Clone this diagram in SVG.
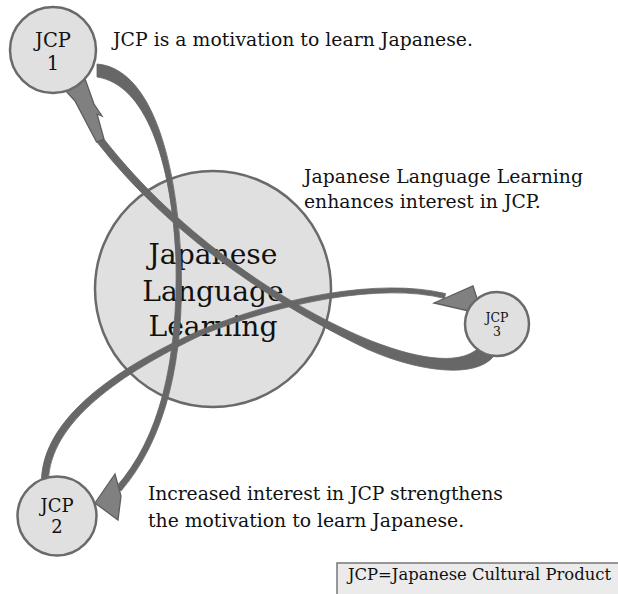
<svg xmlns="http://www.w3.org/2000/svg" width="618" height="594" viewBox="0 0 618 594">
<style>
.node{fill:#e0e0e0;stroke:#6a6a6a;stroke-width:2.5}
.shaft{fill:#676767;stroke:#666;stroke-width:0.8}
.head{fill:#808080;stroke:#5e5e5e;stroke-width:1.3;stroke-linejoin:miter}
text{font-family:"DejaVu Serif","Liberation Serif",serif;fill:#111}
.lbl{font-size:18.8px}
.c{text-anchor:middle}
</style>
<rect width="618" height="594" fill="#fff"/>
<g id="node-jll">
<circle class="node" cx="213" cy="289" r="118"/>
<text class="c" x="213" y="264" font-size="28.2">Japanese</text>
<text class="c" x="213" y="301" font-size="28.2">Language</text>
<text class="c" x="213" y="336" font-size="28.2">Learning</text>
</g>
<g id="connectors">
<path id="arrow-1-2" class="shaft" d="M97,64 C148,68 176,150 181,260 C185,360 165,440 121,491 L116,487 C160,438 178,360 176,260 C172,160 145,84 97,77 Z"/>
<polygon class="head" points="95,503 115,474 121,496 118,520"/>
<path id="arrow-2-3" class="shaft" d="M41.5,482 C41.5,418 118,367 199,330.7 C279,297.5 379,277.5 445.6,293.6 L444.4,298.4 C381,282.5 281,302.5 201,335.3 C122,373 49,422 48.5,482 Z"/>
<polygon class="head" points="434,303 473,286 482,314"/>
<path id="arrow-3-1" class="shaft" d="M494,356 C476,379 419,372 368,349.5 C289.2,311.8 174,242 96.5,141.5 L103.5,138.5 C181,238 290.8,308.2 371.6,341 C421.8,360.5 465.4,366.5 482,344 Z"/>
<polygon class="head" points="96.5,142 75,101 64,89 84,76 94,104 102,116 97,114 104,139"/>
</g>
<g id="node-jcp1">
<circle class="node" cx="53" cy="50" r="43"/>
<text class="c" x="53" y="47" font-size="19.5">JCP</text>
<text class="c" x="53" y="70" font-size="19.5">1</text>
</g>
<g id="node-jcp2">
<circle class="node" cx="57" cy="516" r="39.5"/>
<text class="c" x="57" y="512" font-size="18">JCP</text>
<text class="c" x="57" y="533" font-size="18">2</text>
</g>
<g id="node-jcp3">
<circle class="node" cx="497" cy="324" r="32"/>
<text class="c" x="497" y="322" font-size="12.5">JCP</text>
<text class="c" x="497" y="336" font-size="12.5">3</text>
</g>
<g id="labels">
<text class="lbl" x="113" y="46" textLength="360">JCP is a motivation to learn Japanese.</text>
<text class="lbl" x="304" y="183" textLength="279">Japanese Language Learning</text>
<text class="lbl" x="304" y="208">enhances interest in JCP.</text>
<text class="lbl" x="148" y="500" textLength="355">Increased interest in JCP strengthens</text>
<text class="lbl" x="148" y="527">the motivation to learn Japanese.</text>
</g>
<g id="legend">
<rect x="337" y="563" width="290" height="40" fill="#ebebeb" stroke="#777" stroke-width="1.5"/>
<text x="348" y="580" font-size="16.4" textLength="263">JCP=Japanese Cultural Product</text>
</g>
</svg>
